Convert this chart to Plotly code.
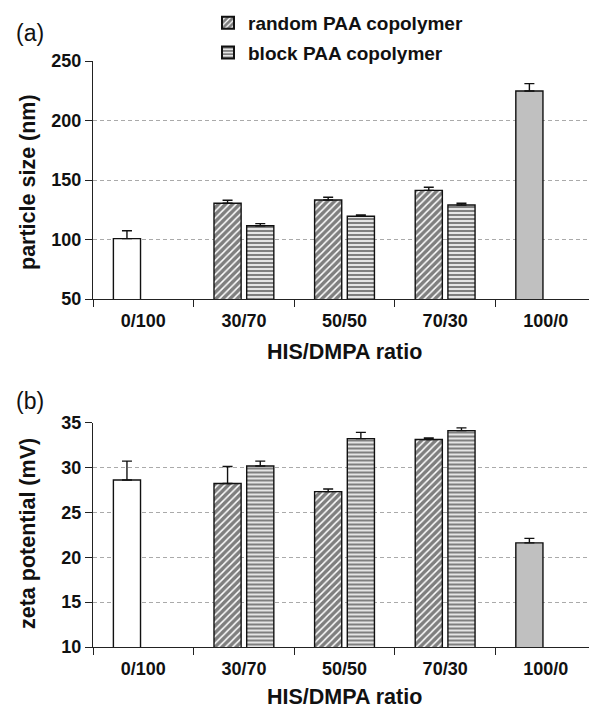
import plotly.graph_objects as go

# ---------------- data ----------------
categories = ["0/100", "30/70", "50/50", "70/30", "100/0"]
copolymer_cats = ["30/70", "50/50", "70/30"]

# particle size (nm)
size_random = [130.4, 133.2, 141.3]
size_random_err = [2.6, 2.3, 2.6]
size_block = [111.6, 119.5, 129.0]
size_block_err = [1.7, 1.1, 1.4]
size_dmpa = [100.7]          # 0/100
size_dmpa_err = [6.7]
size_his = [224.8]           # 100/0
size_his_err = [6.2]

# zeta potential (mV)
zeta_random = [28.2, 27.3, 33.1]
zeta_random_err = [1.9, 0.3, 0.17]
zeta_block = [30.15, 33.2, 34.1]
zeta_block_err = [0.55, 0.7, 0.3]
zeta_dmpa = [28.6]
zeta_dmpa_err = [2.1]
zeta_his = [21.6]
zeta_his_err = [0.5]

size_ticks = [50, 100, 150, 200, 250]
size_grid = [100, 150, 200]
zeta_ticks = [10, 15, 20, 25, 30, 35]
zeta_grid = [15, 20, 25, 30]

# ---------------- style ----------------
FONT = "Liberation Sans, Arial, sans-serif"
W, H = 589, 711
ML, MR, MT, MB = 93, 0, 61, 64
plot_h = H - MT - MB
plot_w = W - ML - MR
a_bottom = (H - MB - 299) / plot_h
b_top = (H - MB - 422.5) / plot_h

outline = dict(color="#111111", width=1.4)


def err(vals):
    return dict(type="data", symmetric=False, array=vals, arrayminus=[0] * len(vals),
                color="#111111", thickness=1.4, width=5)


random_marker = dict(color="white", line=outline,
                     pattern=dict(shape="/", fgcolor="black", bgcolor="white", size=5, solidity=0.7))
block_marker = dict(color="white", line=outline,
                    pattern=dict(shape="-", fgcolor="black", bgcolor="white", size=4, solidity=0.6))

fig = go.Figure()

for row, (xa, ya) in enumerate([("x", "y"), ("x2", "y2")]):
    if row == 0:
        r, re_, b, be, d, de, h, he = (size_random, size_random_err, size_block, size_block_err,
                                       size_dmpa, size_dmpa_err, size_his, size_his_err)
    else:
        r, re_, b, be, d, de, h, he = (zeta_random, zeta_random_err, zeta_block, zeta_block_err,
                                       zeta_dmpa, zeta_dmpa_err, zeta_his, zeta_his_err)
    fig.add_trace(go.Bar(x=["0/100"], y=d, error_y=err(de), marker=dict(color="white", line=outline),
                         offsetgroup="r", showlegend=False, xaxis=xa, yaxis=ya))
    fig.add_trace(go.Bar(x=copolymer_cats, y=r, error_y=err(re_), marker=random_marker,
                         offsetgroup="r", name="random PAA copolymer", legendgroup="r",
                         showlegend=(row == 0), xaxis=xa, yaxis=ya))
    fig.add_trace(go.Bar(x=copolymer_cats, y=b, error_y=err(be), marker=block_marker,
                         offsetgroup="b", name="block PAA copolymer", legendgroup="b",
                         showlegend=(row == 0), xaxis=xa, yaxis=ya))
    fig.add_trace(go.Bar(x=["100/0"], y=h, error_y=err(he), marker=dict(color="#c0c0c0", line=outline),
                         offsetgroup="r", showlegend=False, xaxis=xa, yaxis=ya))

tickfont = dict(family=FONT, size=18, color="#111111", weight="bold")
xcommon = dict(type="category", categoryorder="array", categoryarray=categories,
               range=[-0.5, 4.43], tickson="boundaries", ticks="outside", ticklen=7,
               tickwidth=1.4, tickcolor="#222222", showline=True, linecolor="#222222",
               linewidth=1.4, showgrid=False, tickfont=tickfont, zeroline=False,
               tickangle=0, automargin=False, ticklabelstandoff=5)


def ycommon(rng, ticks, grid):
    return dict(range=rng, tickmode="array", tickvals=ticks, ticks="outside", ticklen=7,
                tickwidth=1.4, tickcolor="#222222", showline=True, linecolor="#222222",
                linewidth=1.4, showgrid=False, zeroline=False, tickfont=tickfont, automargin=False,
                minor=dict(tickmode="array", tickvals=grid, showgrid=True, gridcolor="#aaaaaa",
                           griddash="4px,3px", gridwidth=1, ticks=""))


fig.update_layout(
    width=W, height=H, margin=dict(l=ML, r=MR, t=MT, b=MB, autoexpand=False),
    paper_bgcolor="white", plot_bgcolor="white",
    barmode="group", bargap=0.35, bargroupgap=0.17,
    font=dict(family=FONT, color="#111111"),
    xaxis=dict(domain=[0, 1], anchor="y", **xcommon),
    xaxis2=dict(domain=[0, 1], anchor="y2", **xcommon),
    yaxis=dict(domain=[a_bottom, 1], anchor="x", **ycommon([50, 250], size_ticks, size_grid)),
    yaxis2=dict(domain=[0, b_top], anchor="x2", **ycommon([10, 35], zeta_ticks, zeta_grid)),
    legend=dict(x=(208 - ML) / plot_w, y=(H - MB - 4) / plot_h, xanchor="left", yanchor="top",
                font=dict(family=FONT, size=19, weight="bold", color="#111111"),
                bgcolor="rgba(0,0,0,0)", traceorder="grouped", tracegroupgap=2,
                itemsizing="constant"),
    showlegend=True,
)

title_font = dict(family=FONT, size=21.5, color="#111111", weight="bold")
label_font = dict(family=FONT, size=23, color="#111111")
annos = [
    dict(text="(a)", x=14, y=H - 33, xanchor="left", yanchor="middle", font=label_font),
    dict(text="(b)", x=14, y=H - 401, xanchor="left", yanchor="middle", font=label_font),
    dict(text="particle size (nm)", x=28, y=H - 182, textangle=-90, xanchor="center", yanchor="middle",
         font=title_font),
    dict(text="zeta potential (mV)", x=28, y=H - 534, textangle=-90, xanchor="center", yanchor="middle",
         font=title_font),
    dict(text="HIS/DMPA ratio", x=344, y=H - 352, xanchor="center", yanchor="middle", font=title_font),
    dict(text="HIS/DMPA ratio", x=344, y=H - 697, xanchor="center", yanchor="middle", font=title_font),
]
for a in annos:
    fig.add_annotation(xref="paper", yref="paper", showarrow=False,
                       **{**a, "x": (a["x"] - ML) / plot_w, "y": (a["y"] - MB) / plot_h})

fig.write_html("out.html", config={"displayModeBar": False},
               post_script="document.body.style.margin='0px';")
